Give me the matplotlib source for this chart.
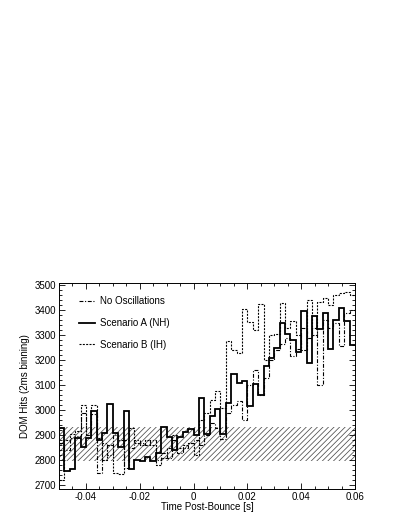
import matplotlib
matplotlib.use("Agg")
import matplotlib.pyplot as plt
import numpy as np
from matplotlib.ticker import MultipleLocator, FuncFormatter

plt.rcParams.update(
    {
        "font.family": ["Liberation Sans", "DejaVu Sans"],
        "axes.unicode_minus": False,
        "hatch.linewidth": 0.55,
    }
)

# 2 ms bins from -50 ms to +60 ms
bin_edges = np.round(np.arange(-0.050, 0.0601, 0.002), 4)

no_osc = [
    2870, 2840, 2890, 2895, 2990, 2900, 2985, 2750, 2870, 2820,
    2900, 2880, 2770, 2850, 2880, 2870, 2860, 2880, 2800, 2830,
    2810, 2880, 2830, 2850, 2870, 2880, 2860, 2900, 2950, 2930,
    2885, 2990, 3020, 3035, 2960, 3100, 3160, 3060, 3130, 3200,
    3240, 3265, 3290, 3215, 3245, 3330, 3290, 3330, 3100, 3360,
    3330, 3350, 3255, 3390, 3400,
]
scen_a = [
    2927, 2757, 2764, 2887, 2853, 2887, 2997, 2880, 2907, 3025,
    2907, 2853, 2997, 2763, 2800, 2797, 2813, 2795, 2830, 2933,
    2893, 2840, 2893, 2913, 2923, 2900, 3047, 2905, 2976, 3003,
    2905, 3030, 3144, 3110, 3117, 3016, 3105, 3060, 3175, 3210,
    3250, 3347, 3303, 3280, 3232, 3395, 3189, 3375, 3326, 3387,
    3243, 3360, 3410, 3355, 3260,
]
scen_b = [
    2720, 2880, 2905, 2915, 3020, 2900, 3020, 2890, 2800, 2860,
    2750, 2745, 2880, 2930, 2870, 2860, 2880, 2860, 2780, 2810,
    2850, 2900, 2850, 2860, 2870, 2820, 2960, 2990, 3040, 3075,
    3010, 3277, 3240, 3228, 3403, 3353, 3320, 3424, 3200, 3300,
    3305, 3430, 3330, 3355, 3300, 3240, 3440, 3300, 3433, 3447,
    3420, 3460, 3467, 3473, 3460,
]

# background band (hatched)
band_low = 2797
band_high = 2932

fig = plt.figure(figsize=(3.99, 5.16), dpi=100)
ax = fig.add_axes([59 / 399, 1 - 489 / 516, 296 / 399, 206 / 516])

ax.fill_between(
    [-0.050, 0.060], band_low, band_high,
    facecolor="none", edgecolor="0.3", linewidth=0, hatch="//////", zorder=1,
)

ax.stairs(no_osc, bin_edges, baseline=None, color="black", linewidth=0.8,
          linestyle=(0, (3.5, 1.5, 1, 1.5)), label="No Oscillations", zorder=3)
ax.stairs(scen_a, bin_edges, baseline=None, color="black", linewidth=1.3,
          linestyle="-", label="Scenario A (NH)", zorder=4)
ax.stairs(scen_b, bin_edges, baseline=None, color="black", linewidth=0.8,
          linestyle=(0, (1.8, 1.2)), label="Scenario B (IH)", zorder=3)

ax.set_xlim(-0.050, 0.060)
ax.set_ylim(2684, 3508)

ax.xaxis.set_major_locator(MultipleLocator(0.02))
ax.xaxis.set_minor_locator(MultipleLocator(0.005))
ax.yaxis.set_major_locator(MultipleLocator(100))
ax.yaxis.set_minor_locator(MultipleLocator(20))
ax.xaxis.set_major_formatter(FuncFormatter(lambda v, p: "0" if abs(v) < 1e-9 else f"{v:g}"))

ax.tick_params(which="both", direction="in", top=True, right=True,
               width=0.6, labelsize=7, pad=2)
ax.tick_params(which="major", length=4.5)
ax.tick_params(which="minor", length=2.3)
for s in ax.spines.values():
    s.set_linewidth(0.7)

ax.set_xlabel("Time Post-Bounce [s]", fontsize=7, labelpad=0.5)
ax.set_ylabel("DOM Hits (2ms binning)", fontsize=7, labelpad=3)

ax.legend(
    loc="upper left", bbox_to_anchor=(0.067, 0.935), frameon=False,
    fontsize=7, handlelength=1.7, handletextpad=0.45, labelspacing=1.2,
    borderpad=0, borderaxespad=0,
)

plt.savefig("out.png", dpi=100)
